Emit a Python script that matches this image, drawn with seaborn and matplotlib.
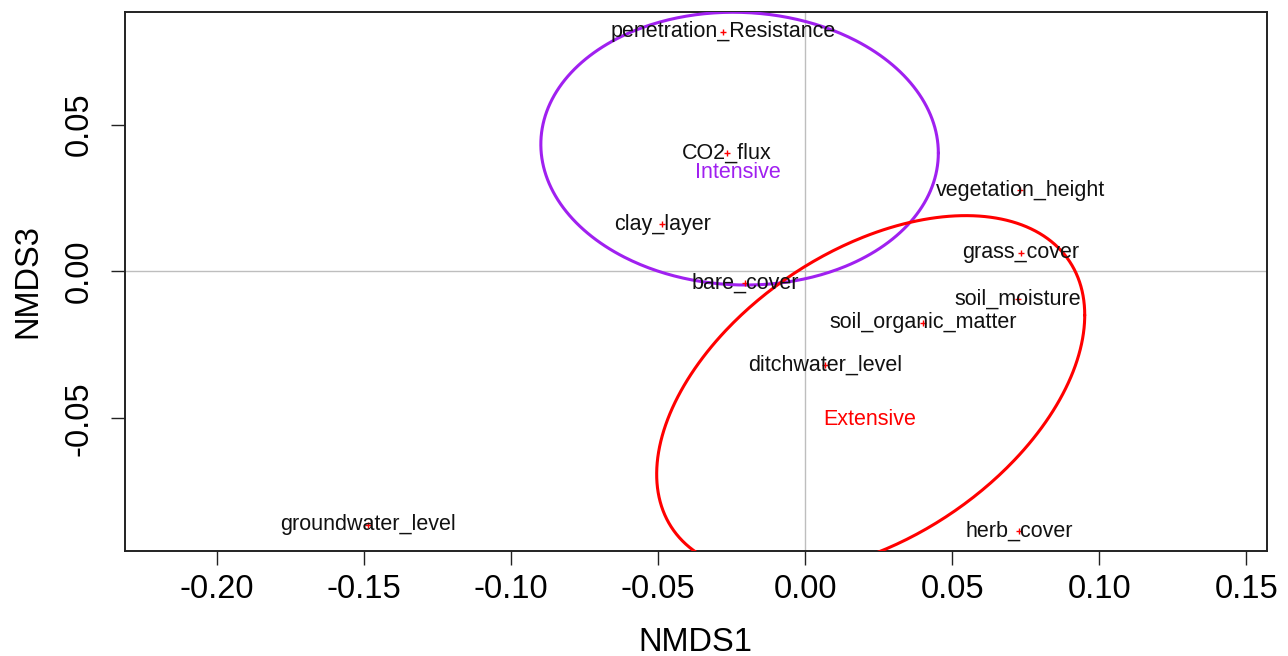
import numpy as np
import pandas as pd
import matplotlib
matplotlib.use("Agg")
import matplotlib.pyplot as plt
import seaborn as sns

# ---- data ----
variables = ["penetration_Resistance", "CO2_flux", "clay_layer", "vegetation_height",
             "grass_cover", "bare_cover", "soil_moisture", "soil_organic_matter",
             "ditchwater_level", "groundwater_level", "herb_cover"]
nmds1 = [-0.0279, -0.0265, -0.0486, 0.0731, 0.0734, -0.0204, 0.0724, 0.0401,
         0.0068, -0.1486, 0.0728]
nmds3 = [0.0815, 0.0403, 0.0161, 0.0277, 0.0063, -0.0039, -0.0093, -0.0175,
         -0.0318, -0.0862, -0.0883]

groups = ["Intensive", "Extensive"]
group_colors = ["#A020F0", "#FF0000"]
group_label_x = [-0.0228, 0.0221]
group_label_y = [0.0338, -0.0505]
ellipse_cx = [-0.0223, 0.0223]
ellipse_cy = [0.0418, -0.0419]
ellipse_var1 = [0.00457, 0.00530]
ellipse_var3 = [0.002153, 0.00371]
ellipse_cov13 = [-0.0001, 0.00197]

x_ticks = [-0.20, -0.15, -0.10, -0.05, 0.00, 0.05, 0.10, 0.15]
y_ticks = [-0.05, 0.00, 0.05]

# ---- style ----
sns.set_style("white")
plt.rcParams["font.family"] = ["Liberation Sans", "DejaVu Sans"]

fig = plt.figure(figsize=(12.88, 6.56), dpi=100)
ax = fig.add_axes([0.0967, 0.1605, 0.9837 - 0.0967, 0.9822 - 0.1605])
ax.set_xlim(-0.2315, 0.1571)
ax.set_ylim(-0.0950, 0.0884)

ax.axhline(0, color="#BEBEBE", lw=1.0, zorder=1)
ax.axvline(0, color="#BEBEBE", lw=1.0, zorder=1)

# ellipses
t = np.linspace(0, 2 * np.pi, 400)
for g, col, cx, cy, v1, v3, c13 in zip(groups, group_colors, ellipse_cx, ellipse_cy,
                                       ellipse_var1, ellipse_var3, ellipse_cov13):
    L = np.linalg.cholesky(np.array([[v1, c13], [c13, v3]]))
    pts = L @ np.vstack([np.cos(t), np.sin(t)])
    edf = pd.DataFrame({"x": cx + pts[0], "y": cy + pts[1]})
    sns.lineplot(data=edf, x="x", y="y", sort=False, estimator=None, color=col,
                 lw=2.2, ax=ax, zorder=3)

# point markers (drawn under the labels)
pdf = pd.DataFrame({"NMDS1": nmds1, "NMDS3": nmds3})
sns.scatterplot(data=pdf, x="NMDS1", y="NMDS3", marker="+", s=22, color="#FF0000",
                linewidth=1.0, ax=ax, zorder=3.5)

# labels
for name, x, y in zip(variables, nmds1, nmds3):
    ax.text(x, y, name, ha="center", va="center", fontsize=15.5, color="#111111", zorder=4)

for g, col, x, y in zip(groups, group_colors, group_label_x, group_label_y):
    ax.text(x, y, g, ha="center", va="center", fontsize=15.5, color=col, zorder=4)

ax.set_xticks(x_ticks)
ax.set_xticklabels([f"{v:.2f}" for v in x_ticks])
ax.set_yticks(y_ticks)
ax.set_yticklabels([f"{v:.2f}" for v in y_ticks], rotation=90, va="center")
ax.tick_params(axis="both", direction="out", length=10, width=1.0, color="#222222",
               labelsize=23.5, labelcolor="#000000", bottom=True, left=True)
ax.tick_params(axis="x", pad=7)
ax.tick_params(axis="y", pad=11.5)
for s in ax.spines.values():
    s.set_color("#222222")
    s.set_linewidth(1.4)

ax.set_xlabel("NMDS1", fontsize=23.5, color="#000000")
ax.set_ylabel("NMDS3", fontsize=23.5, color="#000000")
ax.xaxis.set_label_coords(0.5, -0.142)
ax.yaxis.set_label_coords(-0.0713, 0.5)
ax.grid(False)

fig.savefig("out.png", dpi=100)
